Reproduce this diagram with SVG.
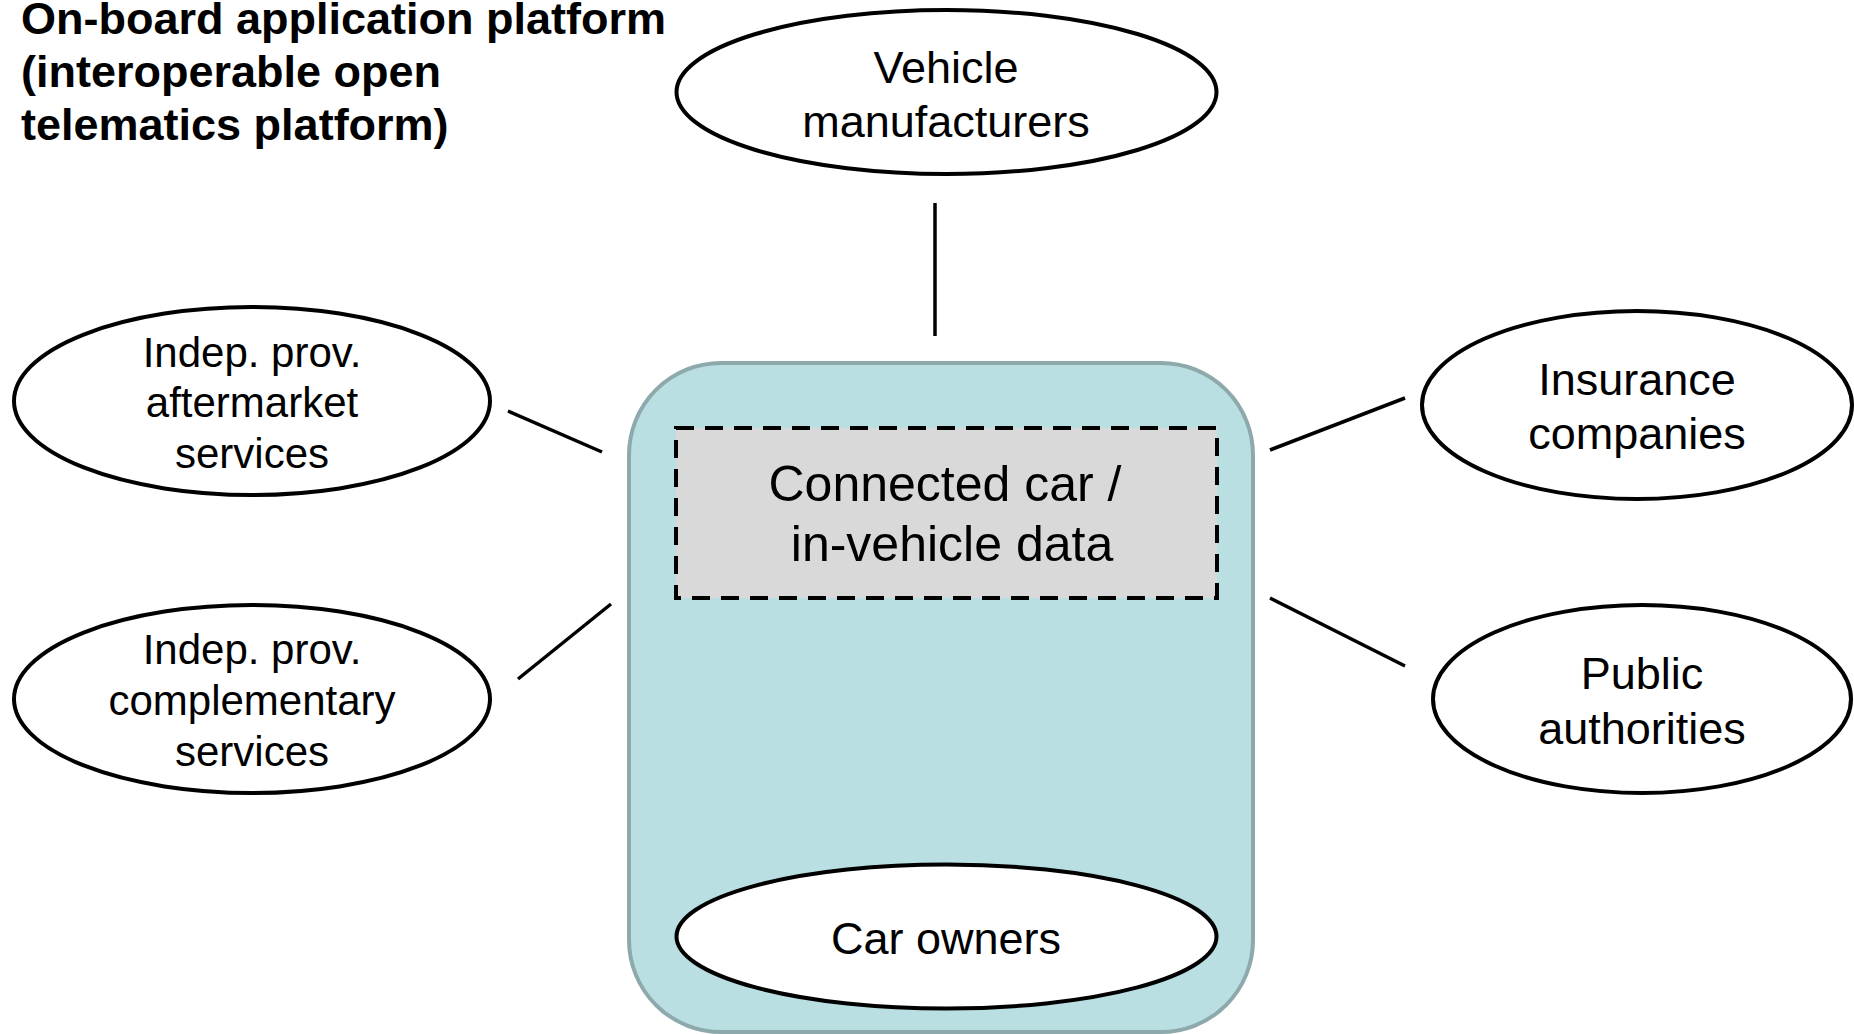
<svg xmlns="http://www.w3.org/2000/svg" width="1854" height="1034" viewBox="0 0 1854 1034">
<style>
.ell{fill:#ffffff;stroke:#000000;stroke-width:4}
.t{font-family:"Liberation Sans",Arial,sans-serif;fill:#000000;text-anchor:middle}
.ttl{font-family:"Liberation Sans",Arial,sans-serif;font-weight:bold;font-size:45px;fill:#000000}
.conn line{stroke:#000000;stroke-width:3.5}
</style>
<rect width="1854" height="1034" fill="#ffffff"/>
<g id="title">
<text class="ttl" x="21" y="34">On-board application platform</text>
<text class="ttl" x="21" y="87">(interoperable open</text>
<text class="ttl" x="21" y="140">telematics platform)</text>
</g>
<g id="platform">
<rect x="629" y="363" width="624" height="669" rx="92" ry="92" fill="#b9dfe2" stroke="#8ea9ac" stroke-width="4"/>
</g>
<g id="data">
<rect x="676" y="428" width="541" height="170" fill="#d9d9d9" stroke="#000000" stroke-width="4" stroke-dasharray="18,11"/>
<text class="t" font-size="50" x="945" y="501">Connected car /</text>
<text class="t" font-size="50" x="952" y="561">in-vehicle data</text>
</g>
<g id="car-owners">
<ellipse class="ell" cx="946.5" cy="936.5" rx="270" ry="72"/>
<text class="t" font-size="45" x="946" y="954">Car owners</text>
</g>
<g id="vehicle-manufacturers">
<ellipse class="ell" cx="946.5" cy="92" rx="270" ry="82"/>
<text class="t" font-size="45" x="946" y="83">Vehicle</text>
<text class="t" font-size="45" x="946" y="137">manufacturers</text>
</g>
<g id="aftermarket">
<ellipse class="ell" cx="252" cy="401" rx="238" ry="94"/>
<text class="t" font-size="42" x="252" y="367">Indep. prov.</text>
<text class="t" font-size="42" x="252" y="417">aftermarket</text>
<text class="t" font-size="42" x="252" y="468">services</text>
</g>
<g id="complementary">
<ellipse class="ell" cx="252" cy="699" rx="238" ry="94"/>
<text class="t" font-size="42" x="252" y="664">Indep. prov.</text>
<text class="t" font-size="42" x="252" y="715">complementary</text>
<text class="t" font-size="42" x="252" y="766">services</text>
</g>
<g id="insurance">
<ellipse class="ell" cx="1637" cy="405" rx="215" ry="94"/>
<text class="t" font-size="45" x="1637" y="395">Insurance</text>
<text class="t" font-size="45" x="1637" y="449">companies</text>
</g>
<g id="public">
<ellipse class="ell" cx="1642" cy="699" rx="209" ry="94"/>
<text class="t" font-size="45" x="1642" y="689">Public</text>
<text class="t" font-size="45" x="1642" y="744">authorities</text>
</g>
<g id="connectors" class="conn">
<line x1="935" y1="203" x2="935" y2="336"/>
<line x1="508" y1="411" x2="602" y2="452"/>
<line x1="518" y1="679" x2="611" y2="604"/>
<line x1="1270" y1="450" x2="1405" y2="398"/>
<line x1="1270" y1="598" x2="1405" y2="666"/>
</g>
</svg>
